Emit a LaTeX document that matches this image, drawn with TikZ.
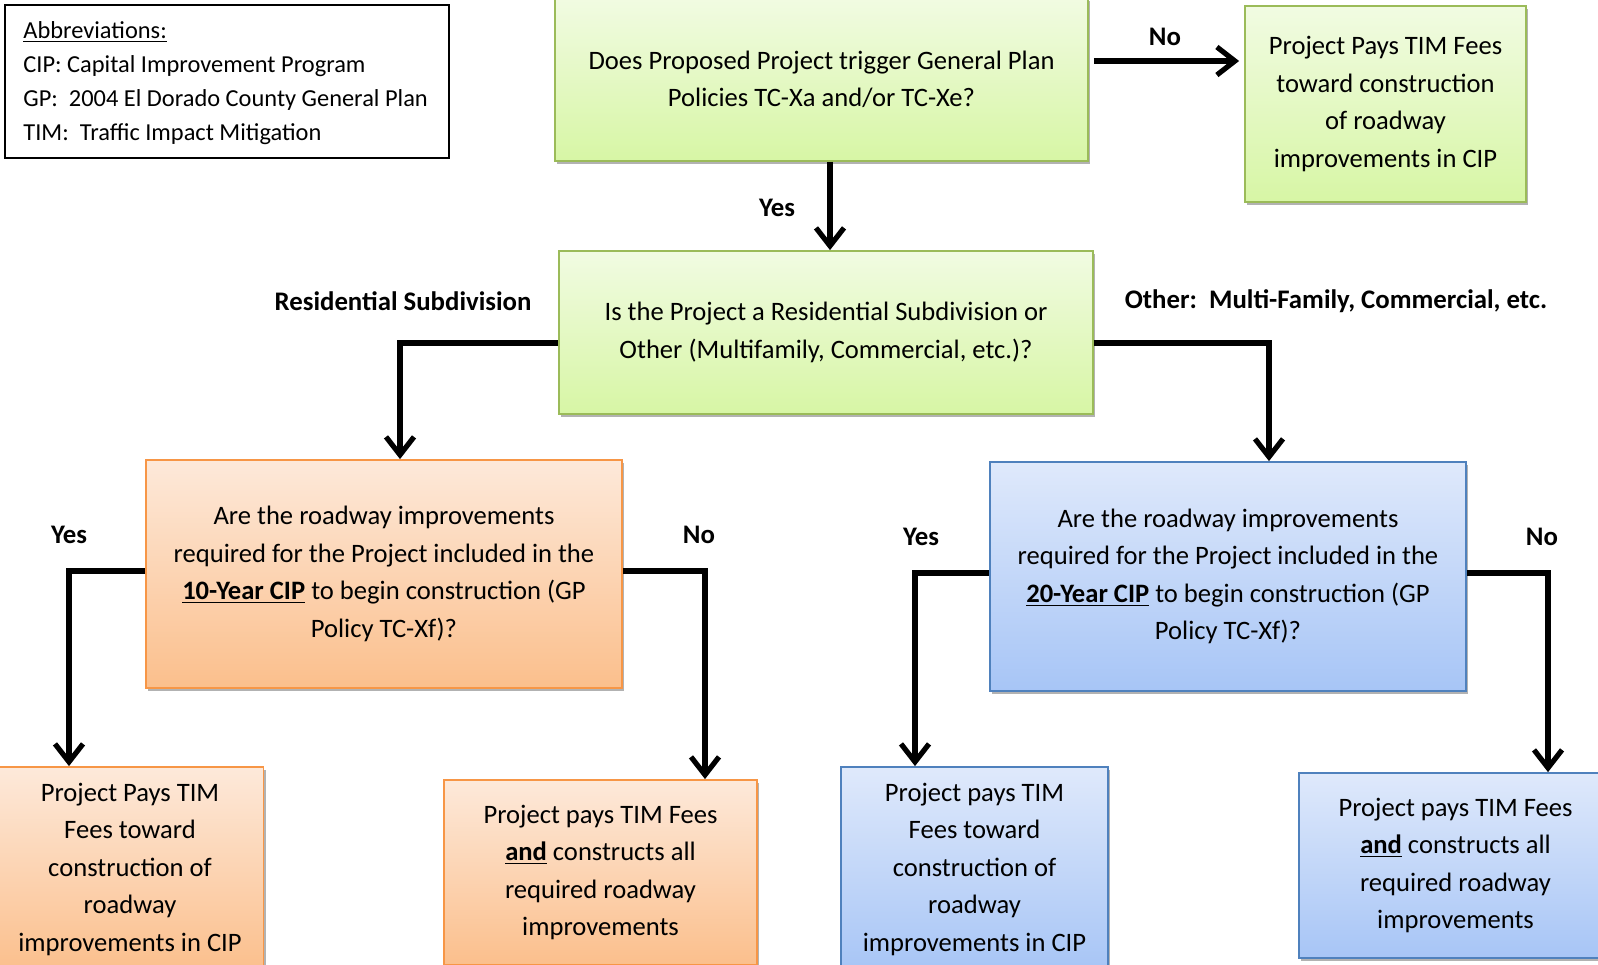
\documentclass[tikz,border=0pt]{standalone}
\usepackage{fontspec}
\setmainfont{Carlito}
\usetikzlibrary{arrows.meta,shadows}
\definecolor{grnD}{HTML}{9BBB59}
\definecolor{grnT}{HTML}{F1FBE2}
\definecolor{grnB}{HTML}{D7F6A5}
\definecolor{orgD}{HTML}{F79646}
\definecolor{orgT}{HTML}{FDE9DA}
\definecolor{orgB}{HTML}{FBBF8C}
\definecolor{bluD}{HTML}{4F81BD}
\definecolor{bluT}{HTML}{DFE9FB}
\definecolor{bluB}{HTML}{A7C5F6}
\tikzset{
  box/.style={rectangle, draw, line width=0.9pt, inner sep=0pt, align=center,
    font=\fontsize{13.3}{18.75}\selectfont,
    drop shadow={shadow xshift=1.2pt, shadow yshift=-1.5pt, opacity=0.3, fill=black}},
  greenbox/.style={box, draw=grnD, top color=grnT, bottom color=grnB},
  orangebox/.style={box, draw=orgD, top color=orgT, bottom color=orgB},
  bluebox/.style={box, draw=bluD, top color=bluT, bottom color=bluB},
  conn/.style={line width=2.6pt},
  arr/.style={conn, -{Straight Barb[length=9pt,width=14pt]}},
  lab/.style={font=\bfseries\fontsize{13.4}{16}\selectfont, inner sep=0pt},
  abbrbox/.style={rectangle, draw, line width=0.7pt, inner sep=0pt,
    minimum width=222pt, minimum height=76.5pt},
  abbrtext/.style={inner sep=0pt, align=left, anchor=west,
    font=\fontsize{12.2}{17}\selectfont}
}
\begin{document}
\begin{tikzpicture}[x=0.5pt,y=-0.5pt]
\useasboundingbox (0,0) rectangle (1598,964);
\clip (0,0) rectangle (1598,964);

% abbreviations
\node[abbrbox] (abbr) at (227,81.5) {};
\node[abbrtext] (abbrtxt) at (23,83) {\underline{Abbreviations:}\\
CIP: Capital Improvement Program\\
GP:\ \ 2004 El Dorado County General Plan\\
TIM:\ \ Traffic Impact Mitigation};

% boxes
\node[greenbox, minimum width=266.5pt, minimum height=81.5pt] (A) at (821.5,79.5)
  {Does Proposed Project trigger General Plan\\ Policies TC-Xa and/or TC-Xe?};
\node[greenbox, minimum width=140.5pt, minimum height=98pt] (B) at (1385.5,104)
  {Project Pays TIM Fees\\ toward construction\\ of roadway\\ improvements in CIP};
\node[greenbox, minimum width=267pt, minimum height=81.5pt] (C) at (826,332.5)
  {Is the Project a Residential Subdivision or\\ Other (Multifamily, Commercial, etc.)?};
\node[orangebox, minimum width=238pt, minimum height=114pt] (D) at (384,574)
  {Are the roadway improvements\\ required for the Project included in the\\
   \underline{\textbf{10-Year CIP}} to begin construction (GP\\ Policy TC-Xf)?};
\node[bluebox, minimum width=238pt, minimum height=114.5pt] (E) at (1228,576.5)
  {Are the roadway improvements\\ required for the Project included in the\\
   \underline{\textbf{20-Year CIP}} to begin construction (GP\\ Policy TC-Xf)?};
\node[orangebox, minimum width=133.5pt, minimum height=102pt] (F) at (130,869)
  {Project Pays TIM\\ Fees toward\\ construction of\\ roadway\\ improvements in CIP};
\node[orangebox, minimum width=156.5pt, minimum height=92.5pt] (G) at (600.5,872.5)
  {Project pays TIM Fees\\ \underline{\textbf{and}} constructs all\\ required roadway\\ improvements};
\node[bluebox, minimum width=133.5pt, minimum height=102pt] (H) at (974.5,869)
  {Project pays TIM\\ Fees toward\\ construction of\\ roadway\\ improvements in CIP};
\node[bluebox, minimum width=156.5pt, minimum height=92.5pt] (I) at (1455.5,865.5)
  {Project pays TIM Fees\\ \underline{\textbf{and}} constructs all\\ required roadway\\ improvements};

% connector coordinates
\coordinate (noY) at (0,61);
\coordinate (yesX) at (830,0);
\coordinate (cl) at (400,343);
\coordinate (cr) at (1269,343);
\coordinate (dl) at (69,571);
\coordinate (dr) at (705,571);
\coordinate (el) at (915,573);
\coordinate (er) at (1548,573);

% connectors
\draw[arr, shorten <=2.5pt, shorten >=2.5pt] (A.east |- noY) -- (B.west |- noY);
\draw[arr] (A.south -| yesX) -- (C.north -| yesX);
\draw[arr] (C.west |- cl) -| (D.north -| cl);
\draw[arr] (C.east |- cr) -| (E.north -| cr);
\draw[arr] (D.west |- dl) -| (F.north -| dl);
\draw[arr] (D.east |- dr) -| (G.north -| dr);
\draw[arr] (E.west |- el) -| (H.north -| el);
\draw[arr] (E.east |- er) -| (I.north -| er);

% labels
\node[lab] (lno1) at (1165,37) {No};
\node[lab] (lyes1) at (777,208) {Yes};
\node[lab] (lres) at (403,301) {Residential Subdivision};
\node[lab] (loth) at (1336,301) {Other:\ \ Multi-Family, Commercial, etc.};
\node[lab] (lyes2) at (69,535) {Yes};
\node[lab] (lno2) at (699,535) {No};
\node[lab] (lyes3) at (921,537) {Yes};
\node[lab] (lno3) at (1542,537) {No};
\end{tikzpicture}
\end{document}
